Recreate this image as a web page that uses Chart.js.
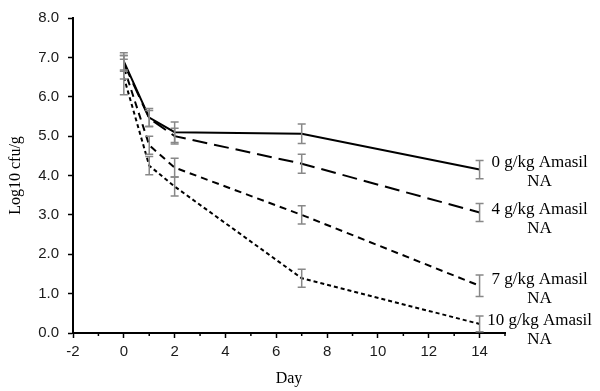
<!DOCTYPE html>
<html>
<head>
<meta charset="utf-8">
<script src="https://cdn.jsdelivr.net/npm/chart.js@4/dist/chart.umd.min.js"></script>
<style>
html,body{margin:0;padding:0;background:#fff;}
#wrap{width:600px;height:391px;position:relative;}
</style>
</head>
<body>
<div id="wrap"><canvas id="c" width="600" height="391"></canvas></div>
<script>
const days = [0, 1, 2, 7, 14];
const seriesNames = ['0 g/kg Amasil', '4 g/kg Amasil', '7 g/kg Amasil', '10 g/kg Amasil'];
const seriesSub = 'NA';
const amasil0 = [6.9, 5.47, 5.1, 5.06, 4.15];
const amasil4 = [6.85, 5.45, 5.0, 4.3, 3.06];
const amasil7 = [6.75, 4.77, 4.2, 3.0, 1.2];
const amasil10 = [6.5, 4.25, 3.72, 1.39, 0.23];
const err0 = [0.22, 0.23, 0.26, 0.25, 0.23];
const err4 = [0.2, 0.2, 0.2, 0.24, 0.23];
const err7 = [0.3, 0.23, 0.24, 0.23, 0.27];
const err10 = [0.45, 0.23, 0.24, 0.23, 0.2];
const yTicks = [0, 1, 2, 3, 4, 5, 6, 7, 8];
const xTickLabels = [-2, 0, 2, 4, 6, 8, 10, 12, 14];

const values = [amasil0, amasil4, amasil7, amasil10];
const errors = [err0, err4, err7, err10];
const dashes = [[], [15, 7], [7, 5], [4, 3]];
const labelOffsets = [-7, -3, -6, -3];

const datasets = values.map((v, i) => ({
  label: seriesNames[i],
  data: days.map((d, j) => ({x: d, y: v[j]})),
  borderColor: '#000',
  borderWidth: 2,
  borderDash: dashes[i],
  pointRadius: 0,
  fill: false,
  tension: 0,
  errs: errors[i]
}));

const errorBarPlugin = {
  id: 'errbars',
  afterDatasetsDraw(chart) {
    const ctx = chart.ctx, xs = chart.scales.x, ys = chart.scales.y;
    ctx.save();
    ctx.strokeStyle = '#888';
    ctx.lineWidth = 1.5;
    chart.data.datasets.forEach(ds => {
      ds.data.forEach((p, j) => {
        const e = ds.errs[j];
        const px = xs.getPixelForValue(p.x);
        const y1 = ys.getPixelForValue(p.y + e);
        const y2 = ys.getPixelForValue(Math.max(0, p.y - e));
        ctx.beginPath();
        ctx.moveTo(px, y1); ctx.lineTo(px, y2);
        ctx.moveTo(px - 4, y1); ctx.lineTo(px + 4, y1);
        ctx.moveTo(px - 4, y2); ctx.lineTo(px + 4, y2);
        ctx.stroke();
      });
    });
    ctx.restore();
  }
};

const labelPlugin = {
  id: 'endlabels',
  afterDraw(chart) {
    const ctx = chart.ctx, xs = chart.scales.x, ys = chart.scales.y;
    ctx.save();
    ctx.fillStyle = '#000';
    ctx.font = '17px "Liberation Serif", "Times New Roman", serif';
    ctx.textAlign = 'center';
    ctx.textBaseline = 'middle';
    const cx = xs.getPixelForValue(days[days.length - 1]) + 60;
    chart.data.datasets.forEach((ds, i) => {
      const last = ds.data[ds.data.length - 1];
      const py = ys.getPixelForValue(last.y) + labelOffsets[i];
      ctx.fillText(ds.label, cx, py);
      ctx.fillText(seriesSub, cx, py + 19);
    });
    // minor x ticks
    ctx.strokeStyle = '#000';
    ctx.lineWidth = 1.5;
    const bottom = chart.chartArea.bottom;
    for (let v = xs.min; v <= xs.max; v++) {
      if (v % 2 !== 0) {
        const px = xs.getPixelForValue(v);
        ctx.beginPath();
        ctx.moveTo(px, bottom); ctx.lineTo(px, bottom + 3);
        ctx.stroke();
      }
    }
    ctx.restore();
  }
};

new Chart(document.getElementById('c'), {
  type: 'line',
  data: { datasets },
  options: {
    responsive: false,
    animation: false,
    layout: { padding: { top: 17, right: 95, left: 0, bottom: 0 } },
    plugins: { legend: { display: false }, tooltip: { enabled: false } },
    scales: {
      x: {
        type: 'linear',
        min: -2, max: 15,
        afterFit(s) { s.height = 58; },
        afterBuildTicks(s) {
          const t = [];
          for (let v = -2; v <= 15; v++) t.push({value: v});
          s.ticks = t;
        },
        ticks: {
          autoSkip: false,
          maxRotation: 0,
          padding: 5,
          color: '#1a1a1a',
          font: { family: '"Liberation Sans", Arial, sans-serif', size: 15 },
          callback: v => xTickLabels.includes(v) ? String(v) : ''
        },
        grid: {
          display: true,
          drawOnChartArea: false,
          drawTicks: true,
          tickLength: 5,
          tickWidth: 1.5,
          tickColor: c => (c.tick && c.tick.value % 2 === 0) ? '#000' : 'rgba(0,0,0,0)'
        },
        border: { display: true, color: '#000', width: 2 },
        title: {
          display: true, text: 'Day', color: '#000',
          font: { family: '"Liberation Serif", "Times New Roman", serif', size: 16 },
          padding: { top: 0, bottom: 3 }
        }
      },
      y: {
        type: 'linear',
        min: 0, max: 8,
        afterFit(s) { s.width = 73; },
        afterBuildTicks(s) { s.ticks = yTicks.map(v => ({value: v})); },
        ticks: {
          padding: 9,
          color: '#1a1a1a',
          font: { family: '"Liberation Sans", Arial, sans-serif', size: 15 },
          callback: v => Number(v).toFixed(1)
        },
        grid: {
          display: true,
          drawOnChartArea: false,
          drawTicks: true,
          tickLength: 5,
          tickWidth: 1.5,
          tickColor: '#000'
        },
        border: { display: true, color: '#000', width: 2 },
        title: {
          display: true, text: 'Log10 cfu/g', color: '#000',
          font: { family: '"Liberation Serif", "Times New Roman", serif', size: 16 },
          padding: { top: 6, bottom: 0 }
        }
      }
    }
  },
  plugins: [errorBarPlugin, labelPlugin]
});
</script>
</body>
</html>
